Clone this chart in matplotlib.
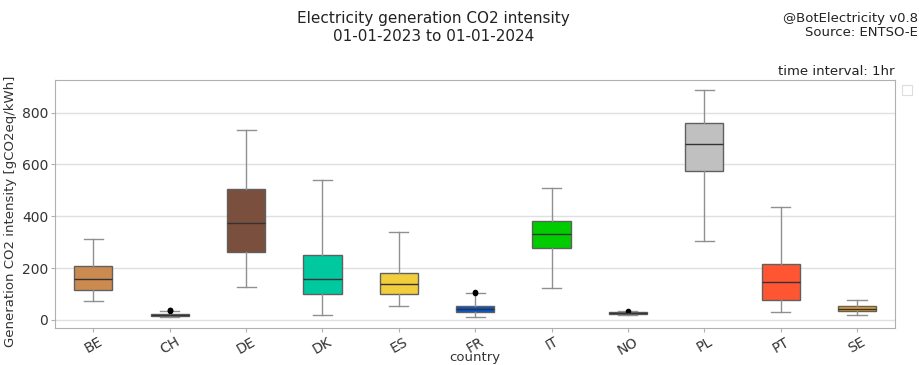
import matplotlib
matplotlib.use("Agg")
import matplotlib.pyplot as plt
from matplotlib.patches import Rectangle

countries = ["BE", "CH", "DE", "DK", "ES", "FR", "IT", "NO", "PL", "PT", "SE"]
whislo = [74, 12, 126, 18, 53, 10, 125, 20, 304, 30, 20]
q1 = [115, 17, 262, 102, 99, 32, 279, 25, 575, 76, 35]
med = [157, 20, 374, 157, 138, 44, 332, 27, 677, 145, 42]
q3 = [208, 22, 506, 250, 183, 55, 383, 29, 759, 216, 53]
whishi = [312, 33, 733, 541, 338, 103, 508, 35, 886, 435, 76]
fliers = [[], [36, 38, 40], [], [], [], [105, 108], [], [36], [], [], []]
colors = ["#cb8a50", "#8b1a1a", "#7a4f3e", "#00c9a0", "#f2cd3c", "#0055d4",
          "#00cc00", "#404040", "#c0c0c0", "#ff5533", "#e8a020"]

fig = plt.figure(figsize=(9.2, 3.65), dpi=100)
ax = fig.add_axes([0.060, 0.102, 0.913, 0.679])

stats = []
for i, c in enumerate(countries):
    stats.append(dict(label=c, whislo=whislo[i], q1=q1[i], med=med[i], q3=q3[i],
                      whishi=whishi[i], fliers=fliers[i]))

bp = ax.bxp(stats, positions=range(len(countries)), widths=0.5, patch_artist=True,
            showfliers=True,
            boxprops=dict(edgecolor="#606060", linewidth=1.0),
            medianprops=dict(color="#333333", linewidth=1.0),
            whiskerprops=dict(color="#909090", linewidth=1.0),
            capprops=dict(color="#909090", linewidth=1.0),
            flierprops=dict(marker="o", markerfacecolor="black", markeredgecolor="black",
                            markersize=3))
for patch, col in zip(bp["boxes"], colors):
    patch.set_facecolor(col)

ax.set_xlim(-0.5, len(countries) - 0.5)
ax.set_ylim(-30, 926)
ax.set_yticks([0, 200, 400, 600, 800])
ax.yaxis.grid(True, color="#e0e0e0", linewidth=1.0)
ax.set_axisbelow(True)
for s in ax.spines.values():
    s.set_color("#b0b0b0")
ax.tick_params(colors="#333333", labelsize=10, length=3, pad=2)
ax.tick_params(axis="both", color="#b0b0b0")
plt.setp(ax.get_xticklabels(), rotation=30)
ax.set_xlabel("country", fontsize=9.5, color="#333333")
ax.xaxis.set_label_coords(0.5, -0.095)
ax.set_ylabel("Generation CO2 intensity [gCO2eq/kWh]", fontsize=9.5, color="#333333")
ax.yaxis.set_label_coords(-0.045, 0.47)

fig.text(0.471, 0.925, "Electricity generation CO2 intensity\n01-01-2023 to 01-01-2024",
         ha="center", va="center", fontsize=11, color="#222222", linespacing=1.2)
fig.text(0.998, 0.93, "@BotElectricity v0.8\nSource: ENTSO-E", ha="right", va="center",
         fontsize=9.5, color="#222222", linespacing=1.15)
fig.text(0.972, 0.803, "time interval: 1hr", ha="right", va="center", fontsize=9.5,
         color="#222222")
fig.patches.append(Rectangle((0.980, 0.740), 0.011, 0.028, transform=fig.transFigure,
                             facecolor="white", edgecolor="#dddddd", linewidth=0.8))

fig.savefig("out.png", dpi=100)
